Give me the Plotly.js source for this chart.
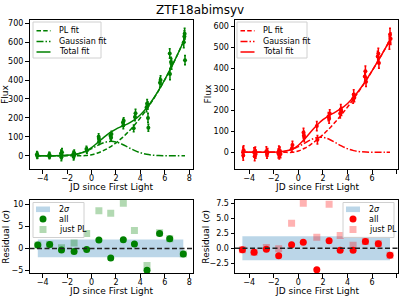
<!DOCTYPE html>
<html><head><meta charset="utf-8">
<script src="https://cdn.plot.ly/plotly-3.0.1.min.js"></script>
<style>html,body{margin:0;padding:0;background:#fff}#plot{width:399px;height:297px}</style>
</head><body><div id="plot"></div>
<script>
// ---- Left panel (green) light curve data ----
const gX   = [-4.47,-4.45,-4.43,-3.47,-3.45,-3.43,-2.5,-2.47,-2.45,-2.42,-1.5,-1.47,-1.44,-1.42,-0.42,-0.38,0.58,0.6,0.62,1.55,1.6,1.63,2.57,2.6,2.63,3.45,3.55,3.6,4.5,4.55,4.6,4.62,4.65,5.6,5.65,6.4,6.42,6.5,6.55,7.55,7.6,7.62,7.65];
const gY   = [8,0,3,4,-2,2,12,-8,3,18,8,-5,2,15,35,28,100,90,75,105,95,115,175,160,185,145,205,225,255,275,265,200,148,385,400,540,432,495,485,600,630,645,505];
const gErr = [14,14,16,14,14,15,18,18,20,20,16,18,18,16,15,15,16,15,15,16,15,14,18,18,16,18,20,20,22,22,20,25,18,25,22,25,30,25,28,30,30,28,25];
// fit curves (left)
const gFitX   = [-4.5,-4,-3.5,-3,-2.5,-2,-1.5,-1,-0.5,0,0.5,1,1.5,2,2.5,3,3.5,4,4.5,5,5.5,6,6.5,7,7.5,7.65];
const gPL     = [0,0,0,0,0,0,0,0,0.8,5.6,14.7,28.2,46,68.2,94.7,125.6,160.9,200.4,244.4,292.7,345.3,402.3,463.6,529.3,599.3,621];
const gGauss  = [0,0,0.1,0.2,0.8,2.2,5.4,11.9,22.6,37.6,54.6,68.9,75.8,72.8,60.9,44.4,28.2,15.7,7.5,3.2,1.1,0.4,0.1,0,0,0];
const gTotal  = [0,0,0.1,0.2,0.8,2.2,5.4,11.9,23.4,43.2,69.3,97.1,121.8,141,155.6,170,189.1,216.1,251.9,295.9,346.4,402.7,463.7,529.3,599.3,621];
// residuals (left)
const gResX   = [-4.4,-3.43,-2.46,-1.43,-0.4,0.6,1.57,2.6,3.51,4.54,5.57,6.4,7.51];
const gResAll = [0.75,0.9,-0.38,-0.68,-0.23,1.88,-2.18,1.95,0.98,-4.9,3.38,2.18,-1.28];
const gResPL  = [0.75,0.9,0.15,1.2,3.38,8.5,7.9,10.15,4.06,-3.83,3.5,2.18,-1.28];

// ---- Right panel (red) light curve data ----
const rX   = [-4.5,-4.48,-4.45,-3.6,-3.55,-3.5,-3.47,-2.6,-2.55,-2.5,-1.62,-1.58,-1.55,-1.5,-1.45,-0.52,-0.48,0.42,0.45,0.48,1.5,1.55,2.45,2.5,2.55,3.4,3.45,3.5,4.45,4.5,4.55,5.4,5.45,5.5,6.45,6.5,6.55,7.4,7.45,7.5];
const rY   = [0,-15,10,0,-18,5,-8,5,-8,0,-5,8,-12,5,-8,20,35,95,80,70,125,60,170,160,185,185,205,195,255,275,260,360,385,335,455,470,425,520,560,540];
const rErr = [25,22,22,22,22,20,20,22,20,18,22,22,20,20,18,18,18,20,20,18,22,20,20,22,18,22,22,20,22,22,20,25,25,22,25,25,25,30,30,28];
const rFitX   = [-4.5,-4,-3.5,-3,-2.5,-2,-1.5,-1,-0.5,0,0.5,1,1.5,2,2.5,3,3.5,4,4.5,5,5.5,6,6.5,7,7.45];
const rPL     = [0,0,0,0,0,0,0,0,0,6.4,19.4,37.1,58.8,84,112.5,144,178.3,215.3,254.7,296.8,341,387.6,436.5,487.3,535];
const rGauss  = [0,0,0,0.1,0.3,1,2.9,7.1,15.1,27.6,43.7,59.6,70.1,71.2,62.3,47.1,30.6,17.2,8.3,3.5,1.3,0.4,0.1,0,0];
const rTotal  = [0,0,0,0.1,0.3,1,2.9,7.1,15.1,34,63.1,96.7,128.9,155.2,174.8,191.1,208.9,232.5,263,300.3,342.3,388,436.6,487.3,535];
const rResX   = [-4.55,-3.6,-2.6,-1.6,-0.55,0.4,1.5,2.5,3.4,4.45,5.45,6.5,7.45];
const rResAll = [-0.28,-0.67,-0.17,-1.28,0.56,1.0,-3.6,1.22,-0.33,-0.33,1.1,0.72,-1.17];
const rResPL  = [-0.28,-0.67,0.1,-0.1,4.15,7.5,1.83,7.35,2.1,0.5,1.1,0.72,-1.17];

const sigmaBand = 2;
const titleText = "ZTF18abimsyv";
const fitNames = ["PL fit", "Gaussian fit", "Total fit"];
const resNames = ["2<i>σ</i>", "all", "just PL"];
const xTitle = "JD since First Light";

const FONT = "DejaVu Sans, sans-serif";
const DASH = '4.5px,2.2px', DASHDOT = '7px,2px,1.5px,2px', ZDASH = '5px,2.5px';
const BAND = 'rgba(31,119,180,0.3)';
const traces = [];
function lcTraces(xa, ya, X, Y, E, fx, pl, ga, tot, col){
  traces.push({x:X, y:Y, error_y:{type:'data', array:E, color:col, thickness:1.5, width:1}, mode:'markers',
    marker:{color:col, size:4}, xaxis:xa, yaxis:ya, type:'scatter'});
  traces.push({x:fx, y:pl, mode:'lines', line:{color:col, dash:DASH, width:1.5, shape:'spline'}, xaxis:xa, yaxis:ya, type:'scatter'});
  traces.push({x:fx, y:ga, mode:'lines', line:{color:col, dash:DASHDOT, width:1.5, shape:'spline'}, xaxis:xa, yaxis:ya, type:'scatter'});
  traces.push({x:fx, y:tot, mode:'lines', line:{color:col, width:1.5, shape:'spline'}, xaxis:xa, yaxis:ya, type:'scatter'});
}
function resTraces(xa, ya, X, all, pl, col, colA){
  const xb = [X[0], X[X.length-1]];
  traces.push({x:xb, y:[-sigmaBand,-sigmaBand], mode:'lines', line:{width:0}, xaxis:xa, yaxis:ya, hoverinfo:'skip', type:'scatter'});
  traces.push({x:xb, y:[sigmaBand,sigmaBand], mode:'lines', line:{width:0}, fill:'tonexty', fillcolor:BAND, xaxis:xa, yaxis:ya, type:'scatter'});
  traces.push({x:X, y:pl, mode:'markers', marker:{symbol:'square', color:colA, size:7}, xaxis:xa, yaxis:ya, type:'scatter'});
  traces.push({x:X, y:all, mode:'markers', marker:{symbol:'circle', color:col, size:7}, xaxis:xa, yaxis:ya, type:'scatter'});
}
lcTraces('x','y', gX,gY,gErr, gFitX,gPL,gGauss,gTotal, 'green');
lcTraces('x2','y2', rX,rY,rErr, rFitX,rPL,rGauss,rTotal, 'red');
resTraces('x3','y3', gResX,gResAll,gResPL,'green','rgba(0,128,0,0.3)');
resTraces('x4','y4', rResX,rResAll,rResPL,'red','rgba(255,0,0,0.3)');

function ax(dom, range, extra){
  return Object.assign({domain:dom, range:range, showline:true, mirror:true, linecolor:'black', linewidth:1,
    ticks:'outside', ticklen:3.5, tickwidth:1, tickcolor:'black', showgrid:false, zeroline:false,
    tickfont:{family:FONT, size:8, color:'black'}, automargin:false}, extra);
}
const W=399, H=297;
const px = v => v/W, py = v => 1 - v/H;
const xL=[px(29.5),px(192.7)], xR=[px(235),px(398)];
const yT=[py(169),py(20)], yB=[py(273.3),py(200)];

const shapes = [
  {type:'line', xref:'x3 domain', yref:'y3', x0:0, x1:1, y0:0, y1:0, line:{color:'#222', dash:ZDASH, width:1.5}},
  {type:'line', xref:'x4 domain', yref:'y4', x0:0, x1:1, y0:0, y1:0, line:{color:'#222', dash:ZDASH, width:1.5}}
];
const annotations = [];
function txt(t, x, y, size, opts){
  annotations.push(Object.assign({text:t, x:px(x), y:py(y), xref:'paper', yref:'paper', showarrow:false,
    font:{family:FONT, size:size, color:'black'}, xanchor:'center', yanchor:'middle'}, opts||{}));
}
function box(x0,y0,x1,y1){
  shapes.push({type:'rect', xref:'paper', yref:'paper', x0:px(x0), x1:px(x1), y0:py(y1), y1:py(y0),
    fillcolor:'rgba(255,255,255,0.8)', line:{color:'#d0d0d0', width:1}});
}
function fitLegend(x0, x1, col){
  box(x0, 22, x1, 58);
  const rows = [30.7, 41.5, 52];
  const dashes = [DASH, DASHDOT, 'solid'];
  rows.forEach((ry,i)=>{
    shapes.push({type:'line', xref:'paper', yref:'paper', x0:px(x0+3.5), x1:px(x0+17.5), y0:py(ry), y1:py(ry), line:{color:col, width:1.5, dash:dashes[i]}});
    txt(fitNames[i], x0+23.5, ry, 8, {xanchor:'left'});
  });
}
fitLegend(33, 101, 'green');
fitLegend(237, 307, 'red');
function resLegend(x0, x1, col, colA){
  box(x0, 202.5, x1, 237.5);
  const rows = [209.3, 219, 229.5];
  const cx = x0 + 10;
  shapes.push({type:'rect', xref:'paper', yref:'paper', x0:px(x0+3), x1:px(x0+17), y0:py(rows[0]+2.8), y1:py(rows[0]-2.8), fillcolor:BAND, line:{width:0}});
  shapes.push({type:'circle', xref:'paper', yref:'paper', x0:px(cx-3.5), x1:px(cx+3.5), y0:py(rows[1]+3.5), y1:py(rows[1]-3.5), fillcolor:col, line:{width:0}});
  shapes.push({type:'rect', xref:'paper', yref:'paper', x0:px(cx-3.5), x1:px(cx+3.5), y0:py(rows[2]+3.5), y1:py(rows[2]-3.5), fillcolor:colA, line:{width:0}});
  rows.forEach((ry,i)=>txt(resNames[i], x0+23.5, ry, 8, {xanchor:'left'}));
}
resLegend(33, 84, 'green', 'rgba(0,128,0,0.3)');
resLegend(343, 394, 'red', 'rgba(255,0,0,0.3)');

txt(titleText, 199.5, 9.5, 12);
txt(xTitle, 111, 187, 9);
txt(xTitle, 316.5, 187, 9);
txt(xTitle, 111, 291, 9);
txt(xTitle, 316.5, 291, 9);
txt('Flux', 5.5, 94.5, 9, {textangle:-90});
txt('Flux', 208, 94.5, 9, {textangle:-90});
txt('Residual (<i>σ</i>)', 6, 236.7, 9, {textangle:-90});
txt('Residual (<i>σ</i>)', 206, 236.7, 9, {textangle:-90});

const xs = {dtick:2, ticklabelstandoff:-2};
const layout = {
  width:W, height:H, margin:{l:0,r:0,t:0,b:0}, paper_bgcolor:'white', plot_bgcolor:'white', showlegend:false,
  xaxis: ax(xL,[-5.08,8.28],Object.assign({anchor:'y'}, xs)),
  yaxis: ax(yT,[-70,717],{anchor:'x', dtick:100}),
  xaxis2: ax(xR,[-5.15,8.1],Object.assign({anchor:'y2'}, xs)),
  yaxis2: ax(yT,[-79,629],{anchor:'x2', dtick:100}),
  xaxis3: ax(xL,[-5.08,8.28],Object.assign({anchor:'y3'}, xs)),
  yaxis3: ax(yB,[-5.6,10.9],{anchor:'x3', dtick:5}),
  xaxis4: ax(xR,[-5.15,8.1],Object.assign({anchor:'y4'}, xs)),
  yaxis4: ax(yB,[-4.2,8.05],{anchor:'x4', dtick:2.5, tickformat:'.1f'}),
  shapes: shapes, annotations: annotations
};
Plotly.newPlot('plot', traces, layout, {staticPlot:true, displayModeBar:false});
</script></body></html>
